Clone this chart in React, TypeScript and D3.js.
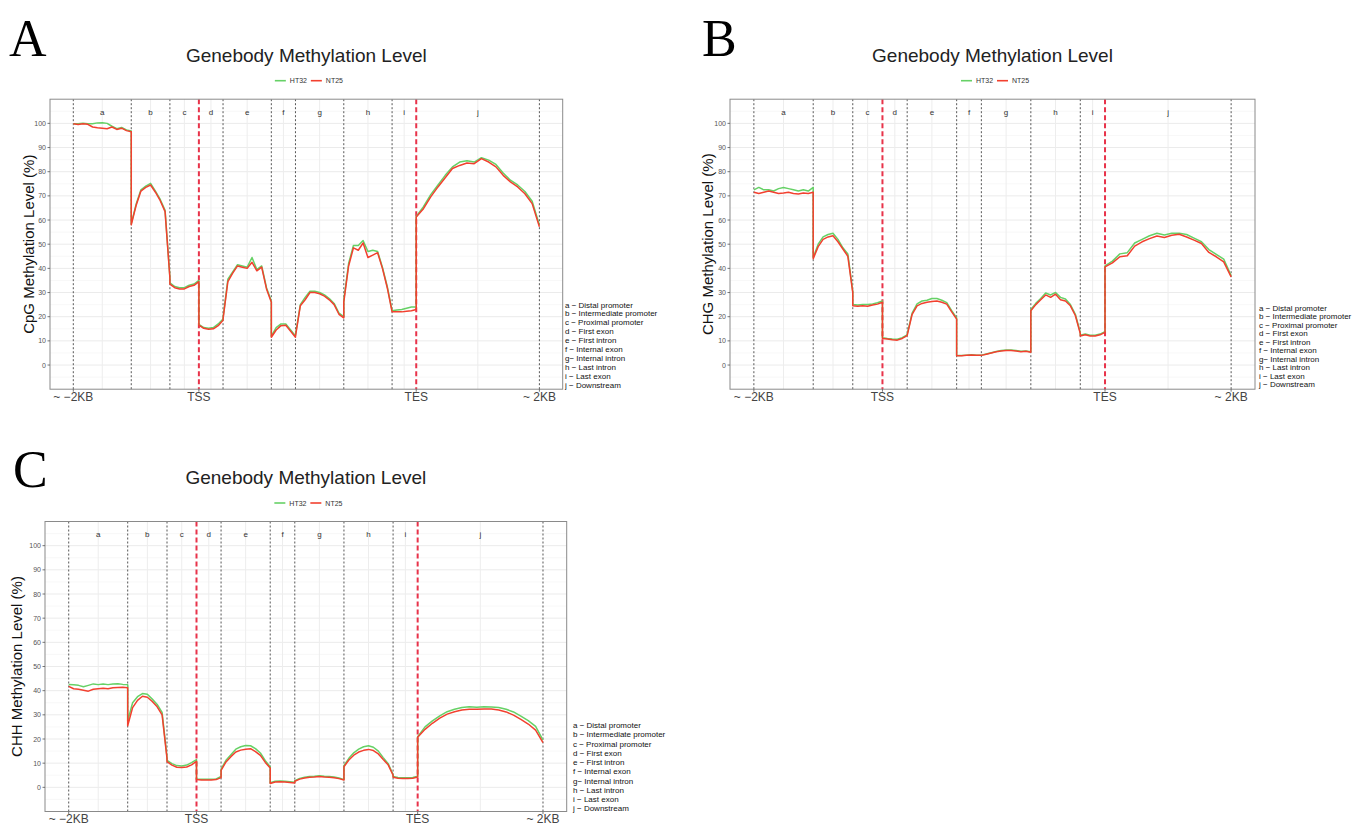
import React from "react";
import * as d3 from "d3";

// ---------- shared categories / labels ----------
const regionCodes = ["a", "b", "c", "d", "e", "f", "g", "h", "i", "j"];
const regionNames = [
  "a − Distal promoter",
  "b − Intermediate promoter",
  "c − Proximal promoter",
  "d − First exon",
  "e − First intron",
  "f − Internal exon",
  "g− Internal intron",
  "h − Last intron",
  "i − Last exon",
  "j − Downstream",
];
// region boundaries in bin units
const regionBounds = [0, 24, 40, 52, 62, 82, 92, 112, 132, 142, 193];
const siteBounds = [52, 142]; // TSS, TES (red dashed)
const xTickPos = [0, 52, 142, 193];
const xTickLabels = ["~ −2KB", "TSS", "TES", "~ 2KB"];
const yTicks = [0, 10, 20, 30, 40, 50, 60, 70, 80, 90, 100];
const seriesNames = ["HT32", "NT25"];
const seriesColors = ["#66d166", "#f2402f"];

// ---------- CpG ----------
const cpgHT32 = [
  [99.8, 99.8, 100, 99.8, 99.8, 100.2, 100.3, 100, 98.8, 97.8, 98.3, 97.3, 96.8],
  [58.5, 66.5, 72.5, 74, 75.2, 72, 68.5, 64, 36.5],
  [34, 32.5, 32, 32, 33, 33.5, 35],
  [16.8, 15.5, 15.2, 15.5, 17, 19],
  [19.5, 35.5, 38.5, 41.5, 41, 40.5, 44.5, 39.5, 41, 32, 26.5],
  [12, 15.5, 17, 17, 14.5, 12],
  [12.5, 25, 28, 30.5, 30.5, 30, 29, 27.5, 25.5, 21.5, 20],
  [27, 42, 49.5, 49.5, 51.5, 47, 47.5, 47, 40.5, 32.5, 22.5],
  [22.5, 22.8, 23, 23.5, 24, 24],
  [61.5, 65.5, 70.5, 74.5, 78.5, 82, 84, 84.5, 84, 85.8, 84.8, 83, 79.5, 76.5, 74.5, 71.8, 67.8, 58],
];
const cpgNT25 = [
  [99.8, 99.5, 99.8, 99.6, 98.5, 98.2, 98.0, 97.8, 98.5, 97.5, 98.0, 97.0, 96.5],
  [58, 66, 72, 73.5, 74.5, 71.5, 68, 63.5, 36],
  [33.5, 32, 31.5, 31.5, 32.5, 33, 34.5],
  [16.5, 15.2, 14.8, 15, 16.3, 18.5],
  [19, 34.5, 38, 41, 40.5, 40, 42.5, 39, 40.5, 31.5, 26],
  [11.5, 14.5, 16.3, 16.5, 14, 11.5],
  [12, 24.5, 27, 30, 30, 29.5, 28.5, 27, 25, 21, 19.5],
  [26, 41, 48.5, 47.5, 50.5, 44.5, 45.5, 46.5, 40, 32, 22],
  [22, 22, 22, 22.3, 22.5, 23],
  [61.3, 64.7, 69.6, 73.7, 77.5, 81.3, 82.6, 83.6, 83.3, 85.4, 84, 82, 78.5, 75.8, 73.7, 70.9, 66.8, 57.2],
];

// ---------- CHG ----------
const chgHT32 = [
  [72.5, 73.5, 72.5, 72.5, 72, 73, 73.5, 73, 72.5, 72, 72.5, 72, 73.5],
  [44.5, 50, 53, 54, 54.5, 52, 48.5, 46, 30.5],
  [25, 24.8, 25, 25, 25.3, 25.8, 26.5],
  [11.3, 11, 10.8, 10.7, 11.3, 12.5],
  [12.8, 21.5, 25.3, 26.5, 26.8, 27.5, 27.5, 26.8, 25.8, 22.5, 19.5],
  [3.9, 3.9, 4.1, 4.3, 4.1, 4.1],
  [4.1, 4.6, 5.1, 5.6, 6, 6.2, 6.2, 6, 5.7, 5.8, 5.5],
  [23, 25.5, 27.5, 29.8, 29, 30, 28, 27.3, 25, 21, 13.5],
  [12.3, 12.8, 12.3, 12.3, 12.8, 13.8],
  [41, 43, 46, 46.5, 50.5, 52, 53.5, 54.5, 53.8, 54.5, 54.5, 54, 52.5, 51, 47.8, 45.8, 43.8, 37],
];
const chgNT25 = [
  [71.5, 71, 71.5, 72, 71.5, 71, 71.2, 71.5, 71, 70.8, 71.2, 71, 71.5],
  [44, 49, 52, 53, 53.5, 51, 48, 45, 30],
  [24.5, 24.3, 24.5, 24.3, 24.8, 25.2, 26],
  [11, 10.8, 10.5, 10.3, 11, 12.2],
  [12.3, 21, 24.5, 25.5, 26, 26.3, 26.5, 26, 25.2, 22, 19],
  [3.8, 3.8, 4, 4.2, 4, 4],
  [4, 4.5, 5, 5.5, 5.8, 6, 6, 5.8, 5.5, 5.7, 5.3],
  [22.5, 25, 27, 29, 28, 29.3, 27, 26.5, 24.5, 20.5, 13],
  [12, 12.5, 12, 12, 12.5, 13.5],
  [40.6, 42.3, 44.8, 45.2, 49.2, 51, 52.3, 53.4, 52.8, 53.7, 54.1, 53, 51.7, 50.3, 46.6, 44.8, 42.7, 36.5],
];

// ---------- CHH ----------
const chhHT32 = [
  [42.6, 42.4, 42.2, 41.6, 42.2, 42.8, 42.5, 42.8, 42.5, 42.8, 42.9, 42.6, 42.5],
  [27.5, 35, 37.5, 38.8, 38.5, 36.5, 34.3, 31, 12.5],
  [11.2, 9.8, 9, 8.8, 9.2, 10.2, 11.5],
  [3.5, 3.3, 3.3, 3.3, 3.5, 4.5],
  [7.5, 11.2, 13.5, 15.8, 16.8, 17.3, 17.2, 16, 14.2, 11, 8.5],
  [1.9, 2.5, 2.6, 2.5, 2.3, 2.1],
  [2.8, 3.7, 4.2, 4.5, 4.6, 4.8, 4.6, 4.5, 4.3, 3.9, 3.2],
  [9, 12, 14.3, 15.8, 16.8, 17.2, 16.6, 15, 12.3, 9.8, 5.3],
  [4.5, 4.1, 4, 4, 4.1, 4.6],
  [21, 25, 27.5, 29.6, 31.3, 32.3, 33, 33.3, 33.1, 33.3, 33.2, 33, 32.3, 31.2, 29.5, 27.6, 25.2, 19.5],
];
const chhNT25 = [
  [41.8, 40.8, 40.6, 40.2, 39.8, 40.6, 40.8, 41, 40.8, 41.2, 41.3, 41.4, 41.2],
  [25.5, 33, 36, 37.7, 37.3, 35.5, 33.3, 30, 12],
  [10.6, 9.2, 8.3, 8.2, 8.4, 9.3, 10.8],
  [3.2, 3, 3, 3, 3.2, 4],
  [7, 10.5, 12.7, 14.6, 15.4, 15.8, 16, 14.8, 13.2, 10.3, 8],
  [1.6, 2.2, 2.3, 2.2, 2, 1.8],
  [2.5, 3.4, 3.9, 4.2, 4.3, 4.5, 4.3, 4.2, 4, 3.6, 3],
  [8.5, 11.3, 13.3, 14.6, 15.3, 15.7, 15.2, 13.8, 11.5, 9.3, 5],
  [4.2, 3.8, 3.7, 3.7, 3.8, 4.3],
  [20.7, 24, 26.5, 28.6, 30.3, 31.3, 32, 32.3, 32.3, 32.4, 32.4, 32, 31.2, 29.9, 28.1, 26.2, 23.7, 18.5],
];

// ---------- layout ----------
const panels = [
  {
    letter: "A", yTitle: "CpG Methylation Level (%)", series: [cpgHT32, cpgNT25],
    x0: 50, x1: 562.7, y0: 99.2, y1: 389.2, letterX: 9, letterY: 56, yTitleX: 28,
    legX: 565, legY0: 305, legStep: 8.9,
  },
  {
    letter: "B", yTitle: "CHG Methylation Level (%)", series: [chgHT32, chgNT25],
    x0: 730, x1: 1255, y0: 99.2, y1: 389.2, letterX: 702, letterY: 56, yTitleX: 707.5,
    legX: 1259, legY0: 308, legStep: 8.5,
  },
  {
    letter: "C", yTitle: "CHH Methylation Level (%)", series: [chhHT32, chhNT25],
    x0: 45, x1: 566.7, y0: 521.5, y1: 811.5, letterX: 13, letterY: 487, yTitleX: 16,
    legX: 573, legY0: 725.7, legStep: 9.25,
  },
];

const SANS = "'Liberation Sans', Arial, Helvetica, sans-serif";

function toPoints(regions: number[][]): [number, number][] {
  const pts: [number, number][] = [];
  regions.forEach((vals, r) => {
    const a = regionBounds[r];
    const b = regionBounds[r + 1];
    vals.forEach((v, k) => {
      pts.push([a + (k * (b - a)) / (vals.length - 1), v]);
    });
  });
  return pts;
}

function Panel({ p }: { p: (typeof panels)[number] }) {
  const x = d3.scaleLinear().domain([-9.65, 202.65]).range([p.x0, p.x1]);
  const y = d3.scaleLinear().domain([-10, 110]).range([p.y1, p.y0]);
  const line = d3
    .line<[number, number]>()
    .x((d) => x(d[0]))
    .y((d) => y(d[1]));
  const cx = (p.x0 + p.x1) / 2;
  const minorY = d3.range(-5, 110, 10);
  const mids = regionCodes.map((_, r) => (regionBounds[r] + regionBounds[r + 1]) / 2);
  const dottedBounds = regionBounds.filter((b) => !siteBounds.includes(b));
  const lc = cx + 2;

  return (
    <g>
      <text x={p.letterX} y={p.letterY} fontFamily="'Liberation Serif', 'Times New Roman', serif" fontSize={52} fill="#000">
        {p.letter}
      </text>
      <text x={cx} y={p.y0 - 37.5} textAnchor="middle" fontFamily={SANS} fontSize={19} fill="#222">
        Genebody Methylation Level
      </text>
      {/* top legend */}
      <g fontFamily={SANS} fontSize={7} fill="#333">
        <line x1={lc - 33.5} x2={lc - 22.5} y1={p.y0 - 18.5} y2={p.y0 - 18.5} stroke={seriesColors[0]} strokeWidth={1.6} />
        <text x={lc - 18.5} y={p.y0 - 18.5} dominantBaseline="central">{seriesNames[0]}</text>
        <line x1={lc + 2.5} x2={lc + 13.5} y1={p.y0 - 18.5} y2={p.y0 - 18.5} stroke={seriesColors[1]} strokeWidth={1.6} />
        <text x={lc + 17.5} y={p.y0 - 18.5} dominantBaseline="central">{seriesNames[1]}</text>
      </g>
      {/* panel background & grid */}
      <rect x={p.x0} y={p.y0} width={p.x1 - p.x0} height={p.y1 - p.y0} fill="#fff" />
      {minorY.map((v) => (
        <line key={"mn" + v} x1={p.x0} x2={p.x1} y1={y(v)} y2={y(v)} stroke="#f3f3f3" strokeWidth={0.6} />
      ))}
      {yTicks.map((v) => (
        <line key={"mj" + v} x1={p.x0} x2={p.x1} y1={y(v)} y2={y(v)} stroke="#ebebeb" strokeWidth={1} />
      ))}
      {mids.map((m, i) => (
        <line key={"vx" + i} x1={x(m)} x2={x(m)} y1={p.y0} y2={p.y1} stroke="#ededed" strokeWidth={1} />
      ))}
      {/* region boundaries */}
      {dottedBounds.map((b) => (
        <line key={"db" + b} x1={x(b)} x2={x(b)} y1={p.y0} y2={p.y1} stroke="#444" strokeWidth={0.9} strokeDasharray="2,2" />
      ))}
      {siteBounds.map((b) => (
        <line key={"sb" + b} x1={x(b)} x2={x(b)} y1={p.y0} y2={p.y1} stroke="#e8334a" strokeWidth={2} strokeDasharray="5,3" />
      ))}
      {/* region letters */}
      {regionCodes.map((c, i) => (
        <text key={"rc" + c} x={x(mids[i])} y={p.y0 + 13} textAnchor="middle" dominantBaseline="central" fontFamily={SANS} fontSize={8} fill="#333">
          {c}
        </text>
      ))}
      {/* series */}
      {p.series.map((s, i) => (
        <path key={"s" + i} d={line(toPoints(s)) || ""} fill="none" stroke={seriesColors[i]} strokeWidth={1.5} strokeLinejoin="round" />
      ))}
      <rect x={p.x0} y={p.y0} width={p.x1 - p.x0} height={p.y1 - p.y0} fill="none" stroke="#8a8a8a" strokeWidth={1} />
      {/* y axis */}
      {yTicks.map((v) => (
        <g key={"yt" + v}>
          <line x1={p.x0 - 2.5} x2={p.x0} y1={y(v)} y2={y(v)} stroke="#555" strokeWidth={0.8} />
          <text x={p.x0 - 4} y={y(v)} textAnchor="end" dominantBaseline="central" fontFamily={SANS} fontSize={7} fill="#555">
            {v}
          </text>
        </g>
      ))}
      <text
        transform={`translate(${p.yTitleX},${(p.y0 + p.y1) / 2}) rotate(-90)`}
        textAnchor="middle"
        dominantBaseline="central"
        fontFamily={SANS}
        fontSize={15}
        fill="#111"
      >
        {p.yTitle}
      </text>
      {/* x axis */}
      {xTickPos.map((t, i) => (
        <g key={"xt" + t}>
          <line x1={x(t)} x2={x(t)} y1={p.y1} y2={p.y1 + 2.5} stroke="#555" strokeWidth={0.8} />
          <text x={x(t)} y={p.y1 + 11.5} textAnchor="middle" fontFamily={SANS} fontSize={12} fill="#444">
            {xTickLabels[i]}
          </text>
        </g>
      ))}
      {/* region legend */}
      {regionNames.map((n, i) => (
        <text key={"rn" + i} x={p.legX} y={p.legY0 + i * p.legStep} dominantBaseline="central" fontFamily={SANS} fontSize={8} fill="#111">
          {n}
        </text>
      ))}
    </g>
  );
}

export default function App() {
  return (
    <svg
      width={1352}
      height={827}
      viewBox="0 0 1352 827"
      style={{ position: "absolute", left: 0, top: 0, background: "#fff" }}
    >
      <rect x={0} y={0} width={1352} height={827} fill="#fff" />
      {panels.map((p) => (
        <Panel key={p.letter} p={p} />
      ))}
    </svg>
  );
}
